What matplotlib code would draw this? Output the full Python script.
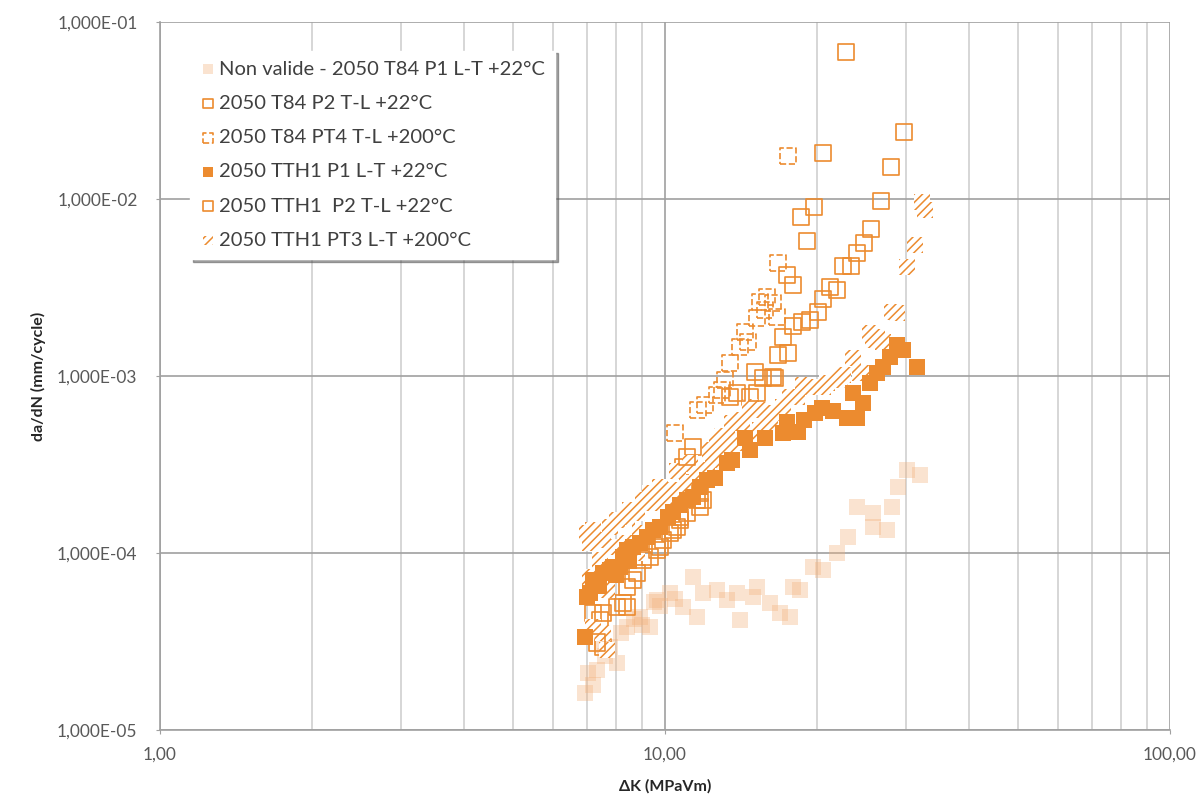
import matplotlib.pyplot as plt
from matplotlib.ticker import FixedLocator, FuncFormatter, NullFormatter

# Donnees (DeltaK en MPa.m^0.5, da/dN en mm/cycle)
nv_dk = [6.94, 7.04, 7.33, 8.04, 7.78, 8.41, 8.92, 9.34, 9.64, 10.23, 10.86, 11.36, 11.57,
         11.89, 12.68, 13.27, 13.89, 14.08, 14.94, 15.21, 16.14, 16.89, 17.68, 17.93, 18.51,
         19.64, 20.55, 21.91, 23.03, 24.00, 25.81, 25.81, 27.52, 28.15, 28.93, 30.15, 31.99,
         7.50, 8.20, 8.70, 9.00, 9.80, 10.50, 9.50, 7.20, 7.60]
nv_dadn = [1.62e-5, 2.10e-5, 2.18e-5, 2.39e-5, 2.95e-5, 3.82e-5, 4.35e-5, 3.82e-5, 5.42e-5,
           5.94e-5, 4.95e-5, 7.32e-5, 4.35e-5, 5.94e-5, 6.18e-5, 5.42e-5, 5.94e-5, 4.18e-5,
           5.64e-5, 6.43e-5, 5.22e-5, 4.58e-5, 4.35e-5, 6.43e-5, 6.18e-5, 8.34e-5, 8.02e-5,
           1.00e-4, 1.23e-4, 1.82e-4, 1.68e-4, 1.40e-4, 1.35e-4, 1.82e-4, 2.36e-4, 2.94e-4,
           2.76e-4, 3.0e-5, 3.5e-5, 4.2e-5, 3.9e-5, 5.0e-5, 5.5e-5, 5.3e-5, 1.8e-5, 2.6e-5]

t84p2_dk = [7.20, 7.43, 7.54, 8.26, 8.41, 8.80, 9.34, 9.77, 10.23, 10.56, 10.71, 11.57,
            11.73, 10.86, 11.36, 13.45, 14.74, 15.07, 15.64, 16.75, 17.52, 17.93, 17.44,
            19.11, 18.59, 19.72, 20.55, 22.82]
t84p2_dadn = [4.58e-5, 4.18e-5, 2.95e-5, 5.22e-5, 6.43e-5, 7.71e-5, 9.49e-5, 1.08e-4,
              1.30e-4, 1.40e-4, 1.60e-4, 1.99e-4, 1.82e-4, 3.06e-4, 3.97e-4, 7.60e-4,
              7.60e-4, 1.05e-3, 9.75e-4, 1.31e-3, 1.35e-3, 3.27e-3, 3.72e-3, 5.79e-3,
              7.91e-3, 9.02e-3, 1.82e-2, 6.77e-2]

pt4_dk = [10.47, 11.63, 12.00, 12.68, 12.97, 13.15, 13.45, 14.08, 14.60, 14.40, 15.21,
          15.78, 15.42, 15.92, 16.36, 16.67, 16.75, 17.52]
pt4_dadn = [4.76e-4, 6.43e-4, 6.86e-4, 7.81e-4, 8.34e-4, 9.49e-4, 1.18e-3, 1.46e-3,
            1.56e-3, 1.77e-3, 2.13e-3, 2.36e-3, 2.62e-3, 2.79e-3, 2.58e-3, 2.16e-3,
            4.34e-3, 1.75e-2]

tth1p1_dk = [6.94, 7.01, 7.10, 7.54, 7.78, 7.89, 8.15, 8.26, 8.41, 8.64, 8.92, 9.21, 9.47,
             9.77, 10.14, 10.37, 10.71, 11.06, 11.36, 11.73, 12.11, 12.56, 13.27, 13.57,
             14.74, 15.78, 17.13, 17.44, 18.34, 19.82, 21.51, 22.93, 24.00, 23.57, 24.66,
             25.46, 26.29, 27.02, 27.89, 28.80, 29.60, 31.55, 7.20, 7.40, 8.00, 8.50,
             14.40, 18.90, 20.50]
tth1p1_dadn = [3.35e-5, 5.64e-5, 5.94e-5, 7.71e-5, 8.02e-5, 8.34e-5, 8.34e-5, 9.49e-5,
               1.04e-4, 1.08e-4, 1.14e-4, 1.23e-4, 1.35e-4, 1.40e-4, 1.60e-4, 1.71e-4,
               1.87e-4, 1.99e-4, 2.07e-4, 2.36e-4, 2.58e-4, 2.65e-4, 3.22e-4, 3.35e-4,
               3.82e-4, 4.47e-4, 4.76e-4, 5.50e-4, 4.83e-4, 6.18e-4, 6.34e-4, 5.79e-4,
               5.79e-4, 8.01e-4, 7.04e-4, 9.13e-4, 1.04e-3, 1.12e-3, 1.28e-3, 1.50e-3,
               1.40e-3, 1.12e-3, 7.0e-5, 6.5e-5, 7.5e-5, 9.0e-5, 4.47e-4, 5.6e-4, 6.6e-4]

tth1p2_dk = [7.33, 7.54, 8.04, 8.41, 8.64, 9.05, 9.64, 9.91, 10.37, 10.71, 11.06, 11.73,
             11.89, 11.06, 13.89, 15.21, 16.36, 16.51, 17.13, 17.93, 18.68, 19.37, 20.09,
             20.55, 21.21, 21.91, 22.51, 23.35, 24.00, 24.78, 25.58, 26.77, 28.03, 29.74]
tth1p2_dadn = [3.11e-5, 4.58e-5, 4.95e-5, 4.95e-5, 7.04e-5, 9.13e-5, 1.04e-4, 1.18e-4,
               1.35e-4, 1.54e-4, 1.68e-4, 2.18e-4, 1.99e-4, 3.49e-4, 8.01e-4, 8.01e-4,
               9.87e-4, 9.75e-4, 1.66e-3, 1.92e-3, 2.02e-3, 2.07e-3, 2.30e-3, 2.72e-3,
               3.18e-3, 3.06e-3, 4.18e-3, 4.18e-3, 4.95e-3, 5.64e-3, 6.77e-3, 9.75e-3,
               1.52e-2, 2.39e-2]

pt3_dk = [7.01, 7.20, 7.10, 7.54, 7.78, 7.89, 8.04, 8.41, 8.41, 8.53, 8.80, 8.92, 9.05,
          9.34, 9.47, 9.77, 8.80, 7.43, 7.20, 7.10, 7.68, 7.20, 7.54, 7.68, 10.14, 10.37,
          10.56, 11.06, 11.57, 11.89, 12.11, 12.45, 12.68, 13.27, 13.27, 13.57, 13.89,
          14.53, 14.74, 15.42, 15.92, 16.14, 16.36, 17.13, 17.68, 18.25, 18.77, 19.11,
          19.82, 20.55, 20.94, 22.21, 22.51, 23.57, 24.33, 24.66, 25.46, 25.81, 26.29,
          27.02, 28.15, 28.80, 30.15, 31.26, 32.28, 32.73, 10.6, 11.2, 12.3, 13.0, 14.2, 15.3]
pt3_dadn = [1.30e-4, 1.35e-4, 1.14e-4, 1.18e-4, 1.40e-4, 1.08e-4, 1.54e-4, 1.60e-4,
            1.14e-4, 1.75e-4, 1.68e-4, 1.30e-4, 1.99e-4, 2.18e-4, 1.91e-4, 2.36e-4,
            1.00e-4, 9.13e-5, 7.32e-5, 7.04e-5, 6.18e-5, 3.82e-5, 3.53e-5, 2.83e-5,
            1.91e-4, 2.27e-4, 2.18e-4, 2.48e-4, 2.65e-4, 2.83e-4, 2.94e-4, 3.35e-4,
            4.18e-4, 3.67e-4, 4.52e-4, 5.42e-4, 4.18e-4, 4.52e-4, 6.68e-4, 4.95e-4,
            5.42e-4, 5.64e-4, 6.18e-4, 6.68e-4, 7.60e-4, 7.60e-4, 8.89e-4, 8.67e-4,
            8.67e-4, 8.67e-4, 9.13e-4, 9.49e-4, 1.01e-3, 1.26e-3, 1.04e-3, 1.04e-3,
            1.75e-3, 1.60e-3, 1.66e-3, 1.56e-3, 2.30e-3, 2.27e-3, 4.13e-3, 5.50e-3,
            9.62e-3, 8.67e-3, 2.9e-4, 3.2e-4, 3.8e-4, 4.6e-4, 5.6e-4, 6.4e-4]

labels = ["Non valide - 2050 T84 P1 L-T +22°C", "2050 T84 P2 T-L +22°C",
          "2050 T84 PT4 T-L +200°C", "2050 TTH1 P1 L-T +22°C",
          "2050 TTH1  P2 T-L +22°C", "2050 TTH1 PT3 L-T +200°C"]

orange = "#EC8B2F"
plt.rcParams['font.family'] = ['Lato', 'DejaVu Sans']
plt.rcParams['hatch.linewidth'] = 1.1

fig = plt.figure(figsize=(12.01, 7.94), dpi=100)
ax = fig.add_axes([0.133, 0.081, 0.841, 0.891])

s = 135
ax.scatter(nv_dk, nv_dadn, s=s, marker='s', color="#F3B07A", alpha=0.35, linewidths=0,
           label=labels[0], zorder=3)
ax.scatter(t84p2_dk, t84p2_dadn, s=s, marker='s', facecolors='none', edgecolors=orange,
           linewidths=1.2, label=labels[1], zorder=4)
ax.scatter(pt4_dk, pt4_dadn, s=s, marker='s', facecolors='none', edgecolors=orange,
           linewidths=1.2, linestyles='--', label=labels[2], zorder=4)
ax.scatter(pt3_dk, pt3_dadn, s=s, marker='s', facecolors='white', edgecolors=orange,
           linewidths=0, hatch='////', label=labels[5], zorder=4)
ax.scatter(tth1p1_dk, tth1p1_dadn, s=s, marker='s', color=orange, linewidths=0,
           label=labels[3], zorder=5)
ax.scatter(tth1p2_dk, tth1p2_dadn, s=s, marker='s', facecolors='none', edgecolors=orange,
           linewidths=1.2, label=labels[4], zorder=5)

ax.set_xscale('log')
ax.set_yscale('log')
ax.set_xlim(1, 100)
ax.set_ylim(1e-5, 1e-1)

ax.yaxis.set_major_locator(FixedLocator([1e-5, 1e-4, 1e-3, 1e-2, 1e-1]))
ax.yaxis.set_minor_formatter(NullFormatter())
ax.yaxis.set_minor_locator(FixedLocator([]))
ax.yaxis.set_major_formatter(FuncFormatter(lambda v, p: f"{v:.3E}".replace('.', ',')))
ax.xaxis.set_major_locator(FixedLocator([1, 10, 100]))
ax.xaxis.set_major_formatter(FuncFormatter(lambda v, p: f"{v:.2f}".replace('.', ',')))
ax.xaxis.set_minor_formatter(NullFormatter())

ax.grid(True, which='major', color='#A0A0A0', linewidth=1.2)
ax.grid(True, which='minor', axis='x', color='#D0D0D0', linewidth=1.2)
ax.set_axisbelow(True)
for side in ['top', 'right']:
    ax.spines[side].set_visible(False)
for side in ['left', 'bottom']:
    ax.spines[side].set_color('#A0A0A0')
    ax.spines[side].set_linewidth(1.2)
ax.tick_params(which='both', colors='#A0A0A0', labelcolor='#595959', labelsize=12.5)
ax.tick_params(axis='y', length=3, pad=13)
ax.tick_params(axis='x', which='major', length=3, pad=9)
ax.tick_params(axis='x', which='minor', length=0)

ax.set_xlabel("ΔK (MPaVm)", fontsize=11.5, fontweight='bold', color='#262626', labelpad=12)
ax.set_ylabel("da/dN (mm/cycle)", fontsize=11.5, fontweight='bold', color='#262626', labelpad=8)

order = [0, 1, 2, 4, 5, 3]
h, l = ax.get_legend_handles_labels()
leg = ax.legend([h[i] for i in order], [l[i] for i in order], loc='upper left',
                bbox_to_anchor=(0.03, 0.96), fontsize=14.5, frameon=True, shadow=True,
                fancybox=False, handletextpad=0.15, labelspacing=0.85, markerscale=0.6,
                borderpad=0.5, handlelength=0.8, borderaxespad=0)
leg.get_frame().set_edgecolor('white')
for t in leg.get_texts():
    t.set_color('#404040')

plt.savefig("out.png", dpi=100)
